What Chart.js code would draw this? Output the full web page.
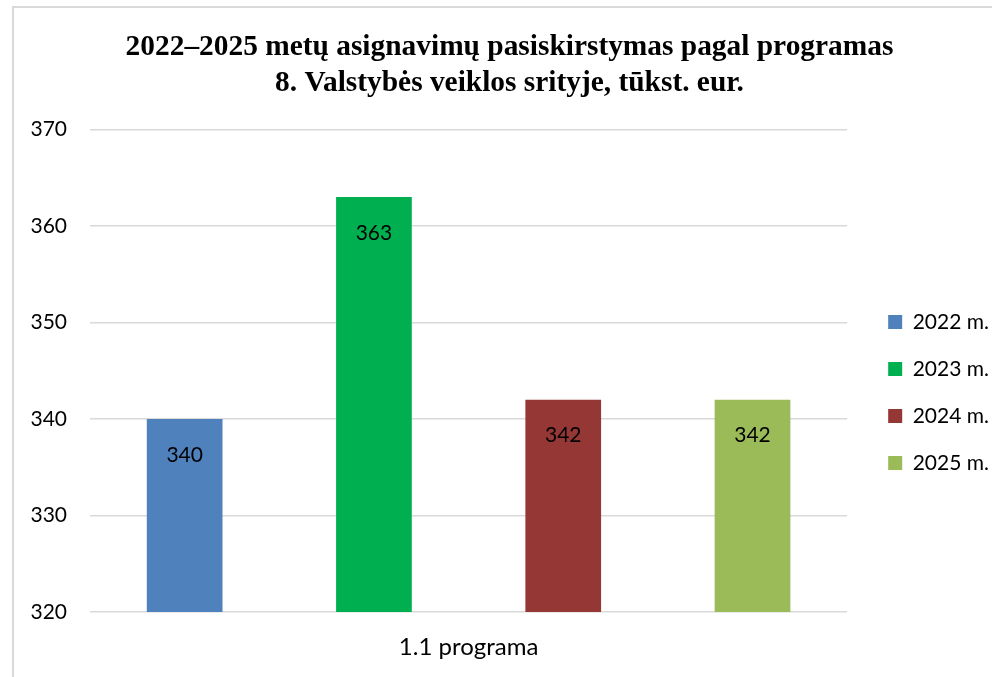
<!DOCTYPE html>
<html>
<head>
<meta charset="utf-8">
<script src="https://cdn.jsdelivr.net/npm/chart.js@4.4.0/dist/chart.umd.min.js"></script>
<style>
  html, body { margin: 0; padding: 0; background: #fff; overflow: hidden; width: 992px; height: 677px; }
  #wrap { position: absolute; left: 12px; top: 6px; width: 994px; height: 671px; border-top: 2px solid #d9d9d9; border-left: 2px solid #d9d9d9; }
  #c { display: block; }
</style>
</head>
<body>
<div id="wrap"><canvas id="c" width="992" height="669"></canvas></div>
<script>
const titleLines = ["2022\u20132025 metų asignavimų pasiskirstymas pagal programas", "8. Valstybės veiklos srityje, tūkst. eur."];
const categories = ["1.1 programa"];
const seriesNames = ["2022 m.", "2023 m.", "2024 m.", "2025 m."];
const values2022 = [340];
const values2023 = [363];
const values2024 = [342];
const values2025 = [342];
const seriesColors = ["#4F81BD", "#00B050", "#953735", "#9BBB59"];
const yMin = 320, yMax = 370, yStep = 10;

const seriesValues = [values2022, values2023, values2024, values2025];
const FONT = "Lato, 'Liberation Sans', sans-serif";

const valueLabels = {
  id: 'valueLabels',
  afterDatasetsDraw(chart) {
    const ctx = chart.ctx;
    ctx.save();
    ctx.font = "21px " + FONT;
    ctx.fillStyle = "#000";
    ctx.textAlign = "center";
    ctx.textBaseline = "middle";
    chart.data.datasets.forEach((ds, i) => {
      const meta = chart.getDatasetMeta(i);
      meta.data.forEach((bar, j) => {
        ctx.fillText(String(ds.data[j]), bar.x, bar.y + 36);
      });
    });
    ctx.restore();
  }
};

new Chart(document.getElementById('c'), {
  type: 'bar',
  data: {
    labels: categories,
    datasets: seriesNames.map((n, i) => ({
      label: n,
      data: seriesValues[i],
      backgroundColor: seriesColors[i],
      borderWidth: 0,
      categoryPercentage: 1.0,
      barPercentage: 0.4
    }))
  },
  options: {
    responsive: false,
    animation: false,
    devicePixelRatio: 1,
    layout: { padding: { left: 6, right: 7, top: 0, bottom: 0 } },
    plugins: {
      title: {
        display: true,
        text: titleLines,
        color: '#000',
        font: { family: "'Liberation Serif', 'Times New Roman', serif", size: 29.4, weight: 'bold', lineHeight: 1.23 },
        padding: { top: 21, bottom: 28.2 }
      },
      legend: {
        position: 'right',
        title: {
          display: true,
          text: ' ',
          font: { size: 10, lineHeight: 1 },
          padding: { top: 45, bottom: 45 }
        },
        labels: {
          color: '#000',
          font: { family: FONT, size: 21, lineHeight: 1.2 },
          boxWidth: 14,
          boxHeight: 14,
          padding: 26
        }
      },
      tooltip: { enabled: false }
    },
    scales: {
      x: {
        grid: { display: false, drawTicks: false },
        border: { display: false },
        ticks: { color: '#000', font: { family: FONT, size: 24 }, padding: 20.6 },
        afterFit(s) { s.height = 65; }
      },
      y: {
        min: yMin, max: yMax,
        grid: { color: '#d9d9d9', lineWidth: 1.5, drawTicks: false },
        border: { display: false },
        ticks: { stepSize: yStep, color: '#000', font: { family: FONT, size: 21 }, padding: 23 },
        afterFit(s) { s.width = 70; }
      },
      yR: {
        position: 'right',
        display: true,
        grid: { display: false, drawTicks: false },
        border: { display: false },
        ticks: { display: false },
        afterFit(s) { s.width = 15; }
      }
    }
  },
  plugins: [valueLabels]
});
</script>
</body>
</html>
